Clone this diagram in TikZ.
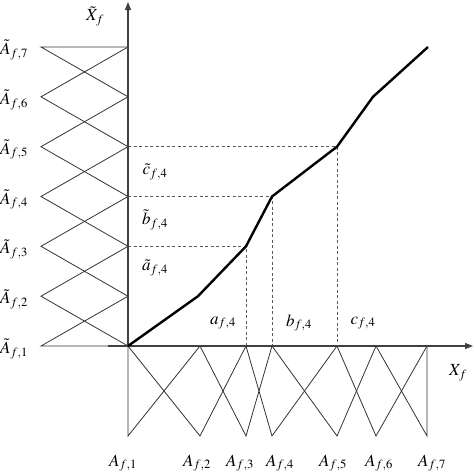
\documentclass[tikz,border=0pt]{standalone}
\usepackage{mathptmx}
\usetikzlibrary{arrows.meta}
\begin{document}
\begin{tikzpicture}[x=1pt,y=-1pt,
  mf/.style={line width=0.8pt, draw=black!80},
  axis/.style={line width=1.3pt, draw=black!75, -{Triangle[length=8pt,width=6pt]}},
  guide/.style={line width=0.7pt, draw=black!65, dash pattern=on 3pt off 2.5pt},
  curve/.style={line width=2.4pt, line join=round},
  lbl/.style={inner sep=0pt, font=\fontsize{17}{19}\selectfont}]
\useasboundingbox (0,0) rectangle (474,475);
% left side coordinates
\foreach \i/\y in {1/346,2/296.2,3/246.3,4/196.5,5/146.7,6/96.8,7/47}{
  \coordinate (L\i) at (41,\y);
  \coordinate (V\i) at (128,\y);
}
% bottom coordinates
\foreach \i/\x in {1/128,2/200,3/246,4/272,5/337,6/376,7/427}{
  \coordinate (H\i) at (\x,346);
  \coordinate (B\i) at (\x,436);
}
% curve points
\coordinate (C2) at (198,296.2);
\coordinate (C3) at (246,246.3);
\coordinate (C4) at (272,196.5);
\coordinate (C5) at (337,146.7);
\coordinate (C6) at (373,96.8);
\coordinate (C7) at (428,47);
% left membership functions
\draw[mf] (V1) -- (L1) -- (V2);
\draw[mf] (V1) -- (L2) -- (V3);
\draw[mf] (V2) -- (L3) -- (V4);
\draw[mf] (V3) -- (L4) -- (V5);
\draw[mf] (V4) -- (L5) -- (V6);
\draw[mf] (V5) -- (L6) -- (V7);
\draw[mf] (V6) -- (L7) -- (V7);
% bottom membership functions
\draw[mf] (H1) -- (B1) -- (H2);
\draw[mf] (H1) -- (B2) -- (H3);
\draw[mf] (H2) -- (B3) -- (H4);
\draw[mf] (H3) -- (B4) -- (H5);
\draw[mf] (H4) -- (B5) -- (H6);
\draw[mf] (H5) -- (B6) -- (H7);
\draw[mf] (H6) -- (B7) -- (H7);
% guides
\draw[guide] (V3) -- (C3) -- (H3);
\draw[guide] (V4) -- (C4) -- (H4);
\draw[guide] (V5) -- (C5) -- (H5);
% axes
\coordinate (xs) at (108,346);
\coordinate (xe) at (473,346);
\coordinate (ye) at (128,2);
\draw[axis] (xs) -- (xe);
\draw[axis] (V1) -- (ye);
% curve
\draw[curve] (V1) -- (C2) -- (C3) -- (C4) -- (C5) -- (C6) -- (C7);
% labels left
\foreach \i in {1,...,7}{
  \node[lbl, anchor=west] (tl\i) at (0,{346-49.83*(\i-1)+3}) {$\tilde{A}_{f,\i}$};
}
% labels bottom
\foreach \i/\x in {1/123,2/197,3/240,4/280,5/333,6/379,7/432}{
  \node[lbl] (bl\i) at (\x,463) {$A_{f,\i}$};
}
\node[lbl] (xt) at (95,16) {$\tilde{X}_f$};
\node[lbl] (xf) at (458,373) {$X_f$};
\node[lbl] (at) at (155,268) {$\tilde{a}_{f,4}$};
\node[lbl] (bt) at (155,220) {$\tilde{b}_{f,4}$};
\node[lbl] (ct) at (155,172) {$\tilde{c}_{f,4}$};
\node[lbl] (a) at (223,323) {$a_{f,4}$};
\node[lbl] (b) at (299,323) {$b_{f,4}$};
\node[lbl] (c) at (363,323) {$c_{f,4}$};
\end{tikzpicture}
\end{document}
